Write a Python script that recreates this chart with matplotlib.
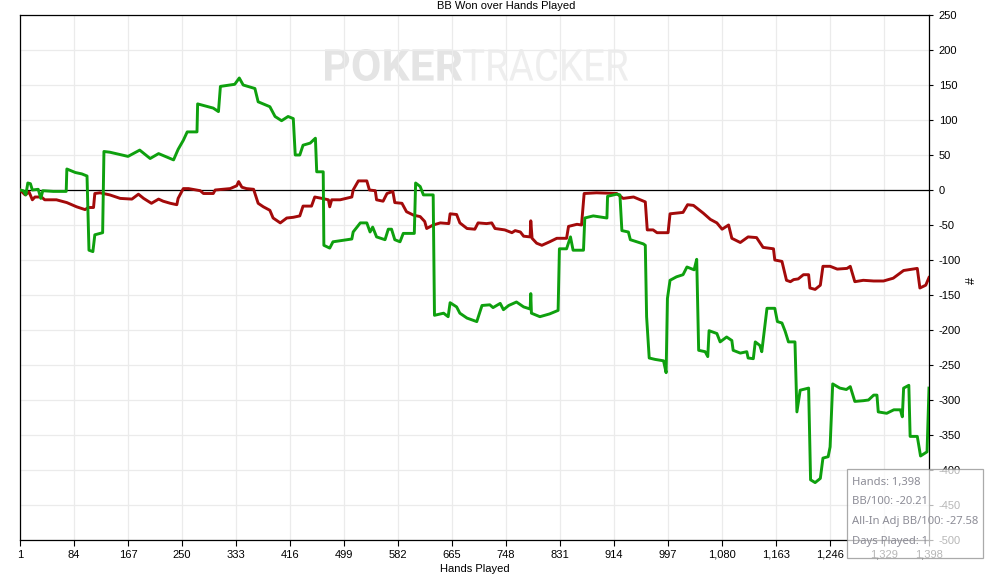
import matplotlib
matplotlib.use("Agg")
import matplotlib.pyplot as plt
from matplotlib.font_manager import FontProperties
from matplotlib.patches import PathPatch, Rectangle
from matplotlib.textpath import TextPath
from matplotlib.transforms import Affine2D

plt.rcParams["axes.unicode_minus"] = False
plt.rcParams["font.family"] = ["Liberation Sans", "DejaVu Sans"]

# green line: hands, BB won
green_hands = [1, 6, 10, 13, 17, 20, 29, 33, 36, 52, 72, 73, 86, 96, 104, 107, 113, 116, 128,
               130, 139, 167, 185, 201, 214, 237, 244, 252, 258, 273, 274, 298, 306, 309, 331,
               338, 344, 362, 367, 385, 393, 403, 413, 421, 424, 431, 436, 447, 455, 457, 467,
               468, 477, 482, 511, 513, 524, 534, 539, 543, 549, 562, 567, 572, 577, 585, 590,
               597, 607, 609, 616, 621, 636, 638, 652, 659, 662, 672, 677, 688, 703, 711, 723,
               728, 739, 744, 752, 764, 775, 785, 786, 787, 800, 815, 828, 830, 841, 847, 851,
               867, 869, 882, 903, 904, 918, 923, 926, 936, 939, 959, 962, 964, 968, 977, 990,
               994, 996, 1000, 1010, 1020, 1026, 1037, 1041, 1044, 1054, 1058, 1060, 1072, 1077,
               1087, 1095, 1097, 1108, 1118, 1120, 1128, 1131, 1138, 1141, 1149, 1161, 1165,
               1172, 1177, 1182, 1192, 1195, 1200, 1213, 1216, 1223, 1231, 1235, 1243, 1246,
               1250, 1261, 1271, 1277, 1284, 1297, 1305, 1313, 1318, 1320, 1333, 1344, 1354,
               1357, 1359, 1367, 1369, 1380, 1385, 1395, 1398]
green_bb = [0, -1, -7, 10, 9, 0, 1, -12, -1, -2, -2, 30, 25, 23, 20, -86, -88, -64, -61,
            55, 54, 48, 57, 45, 52, 43, 58, 71, 83, 83, 123, 117, 112, 148, 151,
            160, 150, 145, 126, 119, 105, 99, 105, 102, 50, 50, 64, 67, 74, 26, 26,
            -79, -83, -74, -70, -60, -47, -47, -60, -53, -67, -71, -56, -56, -71, -74, -62,
            -62, -62, 10, 5, -7, -7, -179, -176, -181, -161, -167, -176, -183, -188, -165, -164,
            -168, -162, -171, -165, -160, -167, -170, -148, -176, -181, -177, -172, -84, -84, -67, -86,
            -86, -40, -37, -40, -9, -6, -7, -58, -60, -71, -77, -79, -181, -240, -242, -244,
            -261, -155, -129, -124, -121, -110, -114, -99, -229, -231, -238, -201, -205, -217,
            -210, -215, -229, -233, -231, -240, -241, -217, -222, -231, -169, -169, -188,
            -190, -202, -217, -217, -317, -286, -283, -414, -418, -412, -383, -381, -367,
            -277, -283, -285, -281, -302, -301, -300, -293, -293, -317, -319, -314, -314,
            -324, -283, -279, -352, -352, -380, -374, -283]

# red line: hands, BB won
red_hands = [1, 9, 15, 20, 24, 34, 39, 57, 73, 88, 101, 106, 114, 116, 124, 139, 155, 173, 183,
             191, 203, 214, 221, 232, 242, 244, 252, 260, 278, 283, 298, 301, 324, 334, 337,
             342, 349, 360, 367, 375, 385, 390, 401, 411, 421, 431, 436, 449, 454, 465, 475,
             477, 480, 493, 511, 513, 521, 534, 538, 547, 549, 559, 565, 574, 577, 588, 595,
             606, 616, 623, 626, 636, 647, 660, 662, 672, 677, 688, 700, 705, 718, 726, 731,
             746, 757, 762, 770, 775, 785, 786, 788, 795, 803, 815, 826, 841, 844, 857, 864,
             868, 887, 918, 928, 944, 962, 965, 974, 980, 997, 1000, 1020, 1027, 1036, 1051,
             1062, 1072, 1080, 1090, 1095, 1108, 1120, 1133, 1143, 1159, 1161, 1172, 1179,
             1185, 1190, 1197, 1205, 1213, 1215, 1223, 1231, 1235, 1246, 1257, 1272, 1277,
             1284, 1297, 1313, 1328, 1343, 1359, 1380, 1384, 1393, 1398]
red_bb = [0, -7, -3, -14, -10, -10, -14, -14, -18, -24, -28, -25, -25, -5, -4, -7, -12, -13, -6,
          -12, -19, -13, -16, -19, -21, -12, 2, 2, -1, -5, -5, 0, 2, 6, 12,
          4, 2, 1, -19, -24, -29, -40, -47, -40, -39, -37, -23, -23, -10, -12, -14,
          -24, -14, -14, -10, 0, 13, 13, 0, -1, -14, -16, -5, -2, -18, -19, -31,
          -36, -38, -45, -55, -50, -47, -48, -34, -35, -47, -55, -56, -47, -48, -47, -55,
          -57, -61, -58, -60, -66, -67, -44, -69, -76, -79, -74, -69, -69, -52, -49, -50,
          -5, -4, -5, -12, -10, -17, -57, -57, -61, -61, -34, -32, -21, -22, -33,
          -42, -47, -56, -50, -69, -75, -67, -68, -82, -84, -100, -102, -129,
          -131, -128, -127, -121, -121, -140, -142, -136, -109, -109, -113, -112, -109,
          -131, -129, -130, -130, -126, -115, -112, -140, -136, -125]

x_ticks = [1, 84, 167, 250, 333, 416, 499, 582, 665, 748, 831, 914, 997, 1080, 1163, 1246, 1329, 1398]
y_ticks = list(range(-500, 251, 50))

tooltip_lines = ["Hands: 1,398", "BB/100: -20.21", "All-In Adj BB/100: -27.58", "Days Played: 1"]

W, H = 988, 576
fig = plt.figure(figsize=(W / 100, H / 100), dpi=100)
ax = fig.add_axes([20 / W, 36 / H, 909 / W, 525 / H])


def watermark(text, weight, color, x0, y0, w, h):
    tp = TextPath((0, 0), text, size=1, prop=FontProperties(family="Roboto", weight=weight))
    bb = tp.get_extents()
    tr = (Affine2D().translate(-bb.x0, -bb.y0)
          .scale(w / W / bb.width, h / H / bb.height)
          .translate(x0 / W, y0 / H) + fig.transFigure)
    fig.add_artist(PathPatch(tp, transform=tr, facecolor=color, edgecolor="none", zorder=0.5))


ax.set_zorder(1)
ax.patch.set_alpha(0)
watermark("POKER", "bold", "#e4e4e4", 325, H - 81, 137, 32)
watermark("TRACKER", "normal", "#eeeeee", 463, H - 81, 165, 32)

ax.grid(True, color="#ebebeb", lw=0.9)
ax.set_axisbelow(True)
ax.axhline(0, color="black", lw=0.9, zorder=2)
ax.plot(red_hands, red_bb, color="#a30a0a", lw=2.1, zorder=3)
ax.plot(green_hands, green_bb, color="#0ea00e", lw=2.1, zorder=4)

ax.set_xlim(1, 1398)
ax.set_ylim(-500, 250)
ax.set_xticks(x_ticks)
ax.set_xticklabels([f"{v:,}" for v in x_ticks])
ax.set_yticks(y_ticks)
ax.yaxis.tick_right()
ax.tick_params(axis="x", direction="out", length=4, width=0.8, pad=3, labelsize=8)
ax.tick_params(axis="y", direction="out", length=3, width=0.8, pad=4, labelsize=8)
for s in ax.spines.values():
    s.set_linewidth(0.9)
ax.set_xlabel("Hands Played", fontsize=8, labelpad=3)

fig.text(0.512, 0.999, "BB Won over Hands Played", ha="center", va="top", fontsize=8)
fig.text(972 / W, 1 - 280 / H, "#", rotation=90, ha="center", va="center", fontsize=9)

box = Rectangle((847 / W, 1 - 558 / H), 136 / W, 89 / H, transform=fig.transFigure,
                facecolor="white", alpha=0.72, edgecolor="#8a8a8a", lw=0.9, zorder=5)
fig.add_artist(box)
for i, line in enumerate(tooltip_lines):
    fig.text(852 / W, 1 - (482 + 19.7 * i) / H, line, ha="left", va="center",
             fontsize=8.1, color="#8c8c96", family=["Noto Sans", "DejaVu Sans"], zorder=6)

fig.savefig("out.png", dpi=100)
